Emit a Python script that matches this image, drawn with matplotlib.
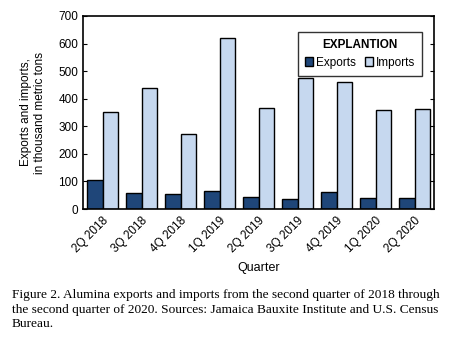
import numpy as np
import matplotlib.pyplot as plt

quarters = ["2Q 2018", "3Q 2018", "4Q 2018", "1Q 2019", "2Q 2019",
            "3Q 2019", "4Q 2019", "1Q 2020", "2Q 2020"]
exports = [105, 59, 53, 66, 42, 36, 62, 41, 39]
imports = [353, 440, 273, 621, 365, 476, 462, 358, 363]

plt.rcParams['font.family'] = ['Liberation Sans', 'DejaVu Sans']

fig = plt.figure(figsize=(4.57, 3.39), dpi=100)
ax = fig.add_axes([83 / 457, 1 - 209 / 339, 351 / 457, 193 / 339])

x = np.arange(len(quarters))
w = 0.41
ax.bar(x - w / 2, exports, w, color='#1f4679', edgecolor='black', linewidth=1, label='Exports')
ax.bar(x + w / 2, imports, w, color='#c6d8ef', edgecolor='black', linewidth=1, label='Imports')

ax.set_xlim(-0.5, len(quarters) - 0.5)
ax.set_ylim(0, 700)
ax.set_yticks(range(0, 701, 100))
ax.set_xticks(x)
ax.set_xticklabels(quarters, rotation=45, ha='right', rotation_mode='anchor', fontsize=8.5)
ax.tick_params(axis='y', direction='in', right=True, labelsize=8.5, length=3)
ax.tick_params(axis='x', length=0, pad=4)
for s in ax.spines.values():
    s.set_linewidth(1.2)

ax.set_xlabel("Quarter", fontsize=9, labelpad=5)
ax.set_ylabel("Exports and imports,\nin thousand metric tons", fontsize=8.5, labelpad=9)

leg = ax.legend(title="EXPLANTION", ncol=2, loc='upper right', bbox_to_anchor=(0.983, 0.95),
                fontsize=8.5, title_fontproperties={'weight': 'bold', 'size': 8.5},
                frameon=True, fancybox=False, edgecolor='black', handlelength=0.7,
                handleheight=0.7, handletextpad=0.2, columnspacing=0.8, borderpad=0.6)
leg.get_frame().set_linewidth(1.0)

fig.text(12 / 457, 1 - 289 / 339,
         "Figure 2. Alumina exports and imports from the second quarter of 2018 through\n"
         "the second quarter of 2020. Sources: Jamaica Bauxite Institute and U.S. Census\n"
         "Bureau.",
         family=['Liberation Serif', 'DejaVu Serif'], fontsize=9.6, va='top', linespacing=1.3)

fig.savefig("out.png", dpi=100)
